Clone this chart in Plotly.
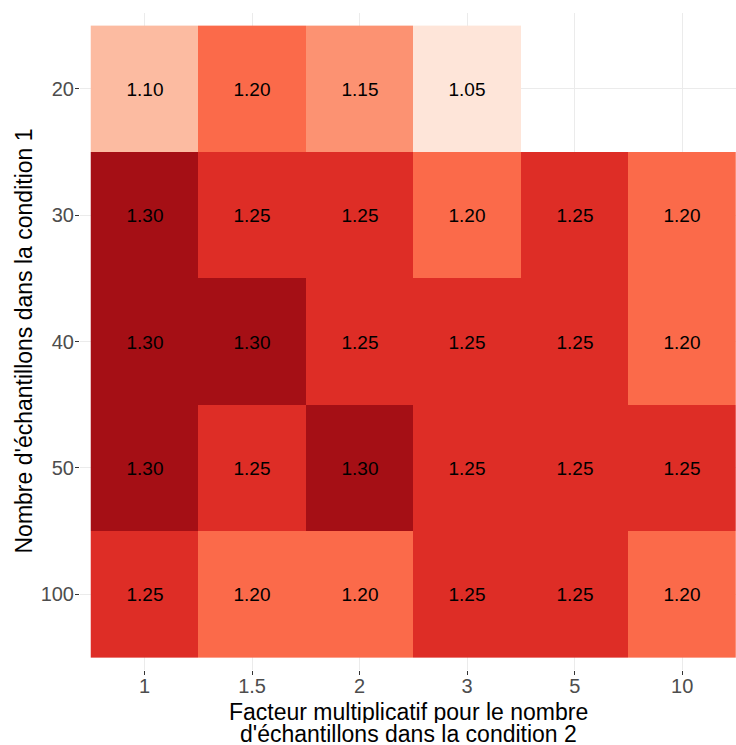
import plotly.graph_objects as go

x_labels = ["1", "1.5", "2", "3", "5", "10"]
y_labels = ["20", "30", "40", "50", "100"]

row_20 = [1.10, 1.20, 1.15, 1.05, None, None]
row_30 = [1.30, 1.25, 1.25, 1.20, 1.25, 1.20]
row_40 = [1.30, 1.30, 1.25, 1.25, 1.25, 1.20]
row_50 = [1.30, 1.25, 1.30, 1.25, 1.25, 1.25]
row_100 = [1.25, 1.20, 1.20, 1.25, 1.25, 1.20]
z = [row_20, row_30, row_40, row_50, row_100]

levels = [1.05, 1.10, 1.15, 1.20, 1.25, 1.30]
level_colors = ["#FEE5D9", "#FCBBA1", "#FC9272", "#FB6A4A", "#DE2D26", "#A50F15"]
colorscale = [[(v - levels[0]) / (levels[-1] - levels[0]), c] for v, c in zip(levels, level_colors)]

text = [["" if v is None else f"{v:.2f}" for v in row] for row in z]

x_title_lines = ["Facteur multiplicatif pour le nombre", "d'échantillons dans la condition 2"]
y_title = "Nombre d'échantillons dans la condition 1"

FONT = "Liberation Sans, Arial, Helvetica, sans-serif"

W, H = 736, 745
plot_l, plot_top = 80, 13
plot_r_px, plot_bottom_px = 736, 670
plot_w = plot_r_px - plot_l
plot_h = plot_bottom_px - plot_top

fig = go.Figure(go.Heatmap(
    x=list(range(len(x_labels))),
    y=list(range(len(y_labels))),
    z=z,
    text=text,
    texttemplate="%{text}",
    textfont=dict(size=19, color="black", family=FONT),
    colorscale=colorscale,
    zmin=levels[0], zmax=levels[-1],
    showscale=False,
    xgap=0, ygap=0,
    hoverongaps=False,
))

fig.update_layout(
    width=W, height=H,
    margin=dict(l=plot_l, r=W - plot_r_px, t=plot_top, b=H - plot_bottom_px, pad=0),
    plot_bgcolor="white", paper_bgcolor="white",
    font=dict(family=FONT, color="black"),
    showlegend=False,
)
fig.update_xaxes(
    tickmode="array", tickvals=list(range(len(x_labels))), ticktext=x_labels,
    range=[-0.6, 5.5], automargin=False,
    showgrid=True, gridcolor="#EBEBEB", gridwidth=1.2,
    zeroline=False, showline=False,
    ticks="outside", ticklen=4, tickcolor="#333333", tickwidth=1,
    tickfont=dict(size=20, color="#4D4D4D"),
    ticklabelstandoff=-6,
)
fig.update_yaxes(
    tickmode="array", tickvals=list(range(len(y_labels))), ticktext=y_labels,
    range=[4.6, -0.6], automargin=False,
    showgrid=True, gridcolor="#EBEBEB", gridwidth=1.2,
    zeroline=False, showline=False,
    ticks="outside", ticklen=4, tickcolor="#333333", tickwidth=1,
    tickfont=dict(size=20, color="#4D4D4D"),
    ticklabelstandoff=-3,
)

def py(ypx):
    return (plot_bottom_px - ypx) / plot_h
def px(xpx):
    return (xpx - plot_l) / plot_w

fig.add_annotation(text=x_title_lines[0], xref="paper", yref="paper",
                   x=px(409), y=py(712), xanchor="center", yanchor="middle",
                   height=22, valign="middle",
                   showarrow=False, font=dict(size=23, color="black", family=FONT))
fig.add_annotation(text=x_title_lines[1], xref="paper", yref="paper",
                   x=px(409), y=py(734), xanchor="center", yanchor="middle",
                   height=22, valign="middle",
                   showarrow=False, font=dict(size=23, color="black", family=FONT))
fig.add_annotation(text=y_title, xref="paper", yref="paper",
                   x=px(23), y=py(341.5), xanchor="center", yanchor="middle",
                   textangle=-90,
                   showarrow=False, font=dict(size=23, color="black", family=FONT))

fig.write_html(
    "out.html",
    config={"displayModeBar": False},
    post_script="document.body.style.margin='0';document.body.style.overflow='hidden';",
)
